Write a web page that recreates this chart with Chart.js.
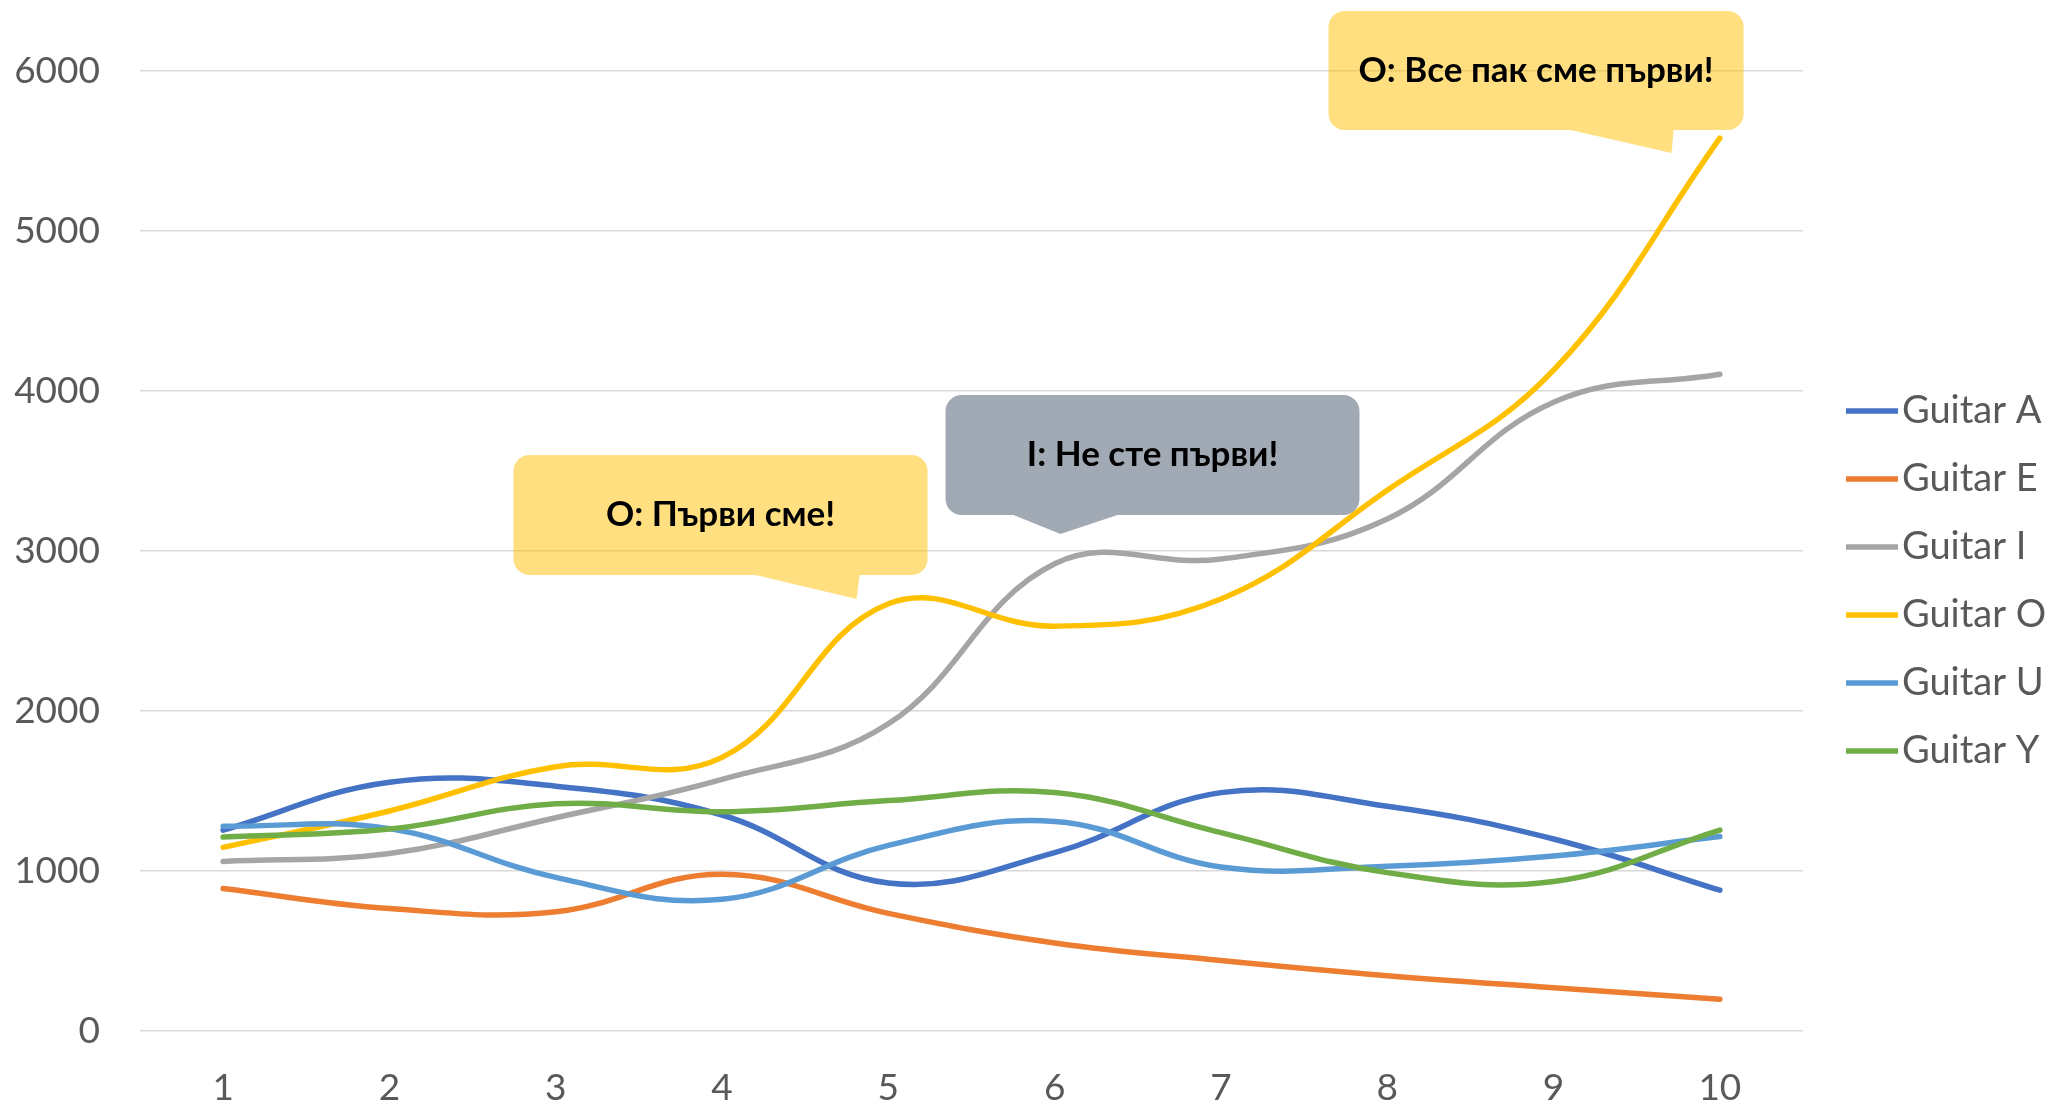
<!DOCTYPE html>
<html>
<head>
<meta charset="utf-8">
<script src="https://cdn.jsdelivr.net/npm/chart.js@4.4.1/dist/chart.umd.min.js"></script>
<style>
  html, body { margin: 0; padding: 0; background: #ffffff; overflow: hidden; }
  #wrap { width: 2053px; height: 1107px; position: relative; }
</style>
</head>
<body>
<div id="wrap"><canvas id="c"></canvas></div>
<script>
// ---- data ----
const categories = ['1', '2', '3', '4', '5', '6', '7', '8', '9', '10'];
const seriesNames = ['Guitar A', 'Guitar E', 'Guitar I', 'Guitar O', 'Guitar U', 'Guitar Y'];
const guitarA = [1255, 1555, 1530, 1350, 925, 1115, 1490, 1405, 1200, 880];
const guitarE = [890, 765, 745, 980, 735, 550, 440, 345, 270, 198];
const guitarI = [1060, 1110, 1333, 1573, 1920, 2920, 2950, 3200, 3930, 4105];
const guitarO = [1148, 1375, 1652, 1710, 2670, 2530, 2700, 3380, 4130, 5580];
const guitarU = [1280, 1265, 960, 823, 1160, 1310, 1025, 1030, 1094, 1215];
const guitarY = [1212, 1262, 1420, 1370, 1440, 1490, 1240, 990, 935, 1256];
const yTickValues = [0, 1000, 2000, 3000, 4000, 5000, 6000];
const yTickLabels = ['0', '1000', '2000', '3000', '4000', '5000', '6000'];
const calloutTexts = ['O: Първи сме!', 'I: Не сте първи!', 'O: Все пак сме първи!'];

// ---- styles ----
const seriesColors = ['#4472C4', '#ED7D31', '#A5A5A5', '#FFC000', '#5B9BD5', '#70AD47'];
const seriesValues = [guitarA, guitarE, guitarI, guitarO, guitarU, guitarY];
const FONT = 'Lato, "Open Sans", sans-serif';
const TEXT_COLOR = '#595959';

// callout geometry in data units (x: category index, y: value)
const callouts = [
  { text: calloutTexts[0], fill: 'rgba(255,192,0,0.5)',
    box: [1.746, 4.236, 3600, 2850], tail: [3.202, 3.827, 3.809, 2700] },
  { text: calloutTexts[1], fill: 'rgba(68,84,106,0.5)',
    box: [4.344, 6.833, 3975, 3225], tail: [4.753, 5.378, 5.035, 3106] },
  { text: calloutTexts[2], fill: 'rgba(255,192,0,0.5)',
    box: [6.647, 9.143, 6375, 5631], tail: [8.102, 8.722, 8.710, 5488] }
];

const calloutPlugin = {
  id: 'callouts',
  afterDatasetsDraw(chart) {
    const ctx = chart.ctx;
    const xs = chart.scales.x, ys = chart.scales.y;
    callouts.forEach(c => {
      const x0 = xs.getPixelForValue(c.box[0]);
      const x1 = xs.getPixelForValue(c.box[1]);
      const y0 = ys.getPixelForValue(c.box[2]);
      const y1 = ys.getPixelForValue(c.box[3]);
      const tl = xs.getPixelForValue(c.tail[0]);
      const tr = xs.getPixelForValue(c.tail[1]);
      const tx = xs.getPixelForValue(c.tail[2]);
      const ty = ys.getPixelForValue(c.tail[3]);
      const r = 16;
      ctx.save();
      ctx.fillStyle = c.fill;
      ctx.beginPath();
      ctx.moveTo(x0 + r, y0);
      ctx.lineTo(x1 - r, y0);
      ctx.arcTo(x1, y0, x1, y0 + r, r);
      ctx.lineTo(x1, y1 - r);
      ctx.arcTo(x1, y1, x1 - r, y1, r);
      ctx.lineTo(tr, y1);
      ctx.lineTo(tx, ty);
      ctx.lineTo(tl, y1);
      ctx.lineTo(x0 + r, y1);
      ctx.arcTo(x0, y1, x0, y1 - r, r);
      ctx.lineTo(x0, y0 + r);
      ctx.arcTo(x0, y0, x0 + r, y0, r);
      ctx.closePath();
      ctx.fill();
      ctx.fillStyle = '#000000';
      ctx.font = 'bold 35px ' + FONT;
      ctx.textAlign = 'center';
      ctx.textBaseline = 'middle';
      ctx.fillText(c.text, (x0 + x1) / 2, (y0 + y1) / 2);
      ctx.restore();
    });
  }
};

// nudge the right-hand legend up a little so its rows line up with the reference
const legendNudge = {
  id: 'legendNudge',
  afterLayout(chart) {
    const l = chart.legend;
    if (l) { l.top -= 8; l.bottom -= 8; }
  }
};

const datasets = seriesNames.map((name, i) => ({
  label: name,
  data: seriesValues[i],
  borderColor: seriesColors[i],
  backgroundColor: seriesColors[i],
  borderWidth: 5.5,
  borderCapStyle: 'round',
  borderJoinStyle: 'round',
  pointRadius: 0,
  pointHoverRadius: 0,
  tension: 0.4,
  fill: false,
  order: seriesNames.length - i
}));

new Chart(document.getElementById('c'), {
  type: 'line',
  data: { labels: categories, datasets },
  plugins: [calloutPlugin, legendNudge],
  options: {
    responsive: true,
    maintainAspectRatio: false,
    animation: false,
    devicePixelRatio: 1,
    layout: { padding: { top: 71, bottom: 0, left: 0, right: 0 } },
    plugins: {
      tooltip: { enabled: false },
      legend: {
        position: 'right',
        align: 'center',
        maxWidth: 222,
        labels: {
          font: { family: FONT, size: 38 },
          color: TEXT_COLOR,
          usePointStyle: true,
          pointStyle: 'line',
          boxWidth: 22,
          boxHeight: 36.8,
          padding: 30,
          sort: (a, b) => a.datasetIndex - b.datasetIndex
        }
      }
    },
    scales: {
      x: {
        type: 'category',
        offset: true,
        grid: { display: false },
        border: { display: false },
        ticks: { font: { family: FONT, size: 37 }, color: TEXT_COLOR, padding: 27, maxRotation: 0 },
        afterFit: s => { s.height = 76; }
      },
      y: {
        type: 'linear',
        position: 'left',
        min: 0,
        max: 6000,
        grid: { color: '#D9D9D9', lineWidth: 1.5, drawTicks: false },
        border: { display: false },
        afterBuildTicks: s => { s.ticks = yTickValues.map(v => ({ value: v })); },
        ticks: {
          font: { family: FONT, size: 37 },
          color: TEXT_COLOR,
          padding: 40,
          callback: (v) => yTickLabels[yTickValues.indexOf(v)]
        },
        afterFit: s => { s.width = 140; }
      },
      spacer: {
        type: 'linear',
        position: 'right',
        display: true,
        grid: { display: false, drawTicks: false },
        border: { display: false },
        ticks: { display: false },
        afterFit: s => { s.width = 28; }
      }
    }
  }
});
</script>
</body>
</html>
